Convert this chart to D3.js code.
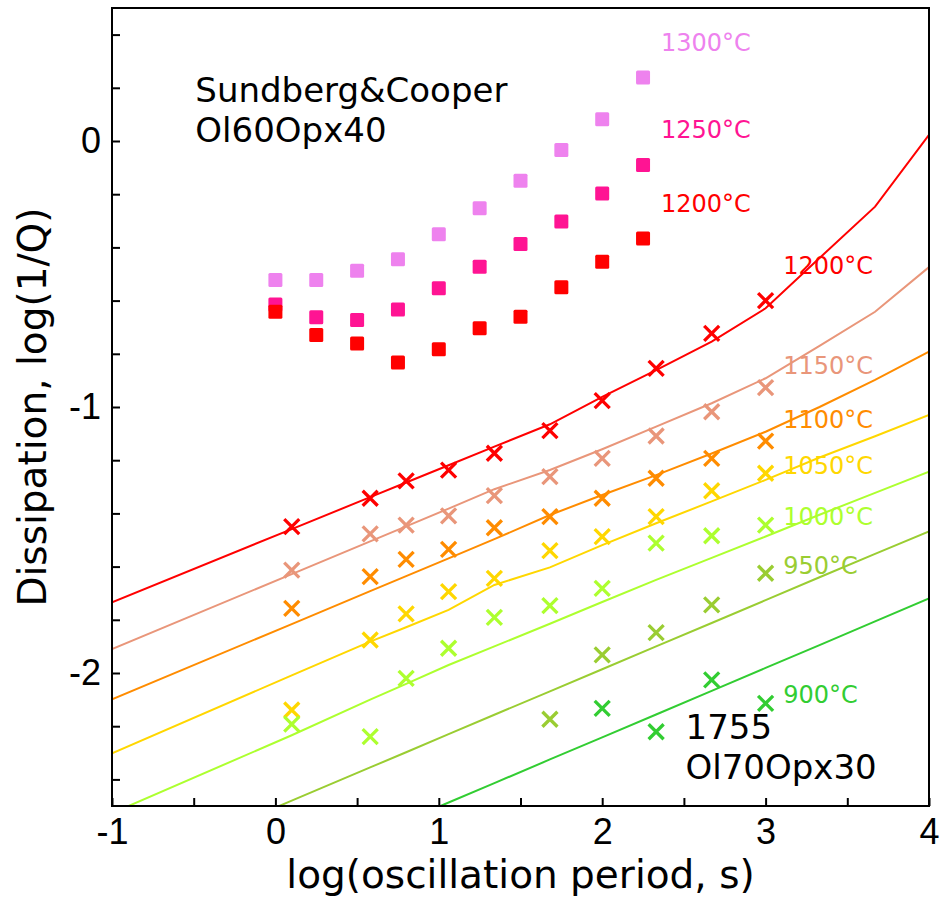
<!DOCTYPE html>
<html>
<head>
<meta charset="utf-8">
<script src="https://cdn.jsdelivr.net/npm/d3@7"></script>
<style>
  body { margin: 0; background: #fff; }
  svg { display: block; font-family: 'DejaVu Sans', sans-serif; }
</style>
</head>
<body>
<svg id="chart" width="945" height="897"></svg>
<script>
// Sundberg & Cooper, Ol60Opx40 (squares)
const squareX = [0, 0.25, 0.5, 0.75, 1.0, 1.25, 1.5, 1.75, 2.0, 2.25];
const sq1300 = [-0.523, -0.523, -0.488, -0.445, -0.351, -0.253, -0.149, -0.034, 0.082, 0.239];
const sq1250 = [-0.615, -0.663, -0.673, -0.633, -0.554, -0.473, -0.387, -0.303, -0.197, -0.090];
const sq1200 = [-0.642, -0.729, -0.761, -0.833, -0.783, -0.704, -0.661, -0.550, -0.454, -0.367];

// sample 1755, Ol70Opx30 (crosses)
const crossX = [0.1, 0.58, 0.8, 1.06, 1.34, 1.68, 2.0, 2.33, 2.67, 3.0];
const cross1200 = [-1.450, -1.343, -1.278, -1.237, -1.174, -1.089, -0.976, -0.855, -0.723, -0.600];
const cross1150 = [-1.613, -1.477, -1.444, -1.409, -1.333, -1.262, -1.193, -1.109, -1.018, -0.927];
const cross1100 = [-1.757, -1.638, -1.573, -1.535, -1.454, -1.412, -1.343, -1.268, -1.193, -1.128];
const cross1050 = [-2.139, -1.876, -1.778, -1.694, -1.644, -1.540, -1.487, -1.412, -1.315, -1.249];
const cross1000 = [-2.192, -2.239, -2.020, -1.907, -1.791, -1.747, -1.682, -1.512, -1.484, -1.444];
const cross950X = [1.68, 2.0, 2.33, 2.67, 3.0];
const cross950 = [-2.174, -1.932, -1.848, -1.744, -1.625];
const cross900X = [2.0, 2.33, 2.67, 3.0];
const cross900 = [-2.133, -2.221, -2.026, -2.114];

// model curves
const modelX = [-1, 0.1, 0.58, 0.8, 1.06, 1.34, 1.68, 2.0, 2.33, 2.67, 3.0, 3.33, 3.67, 4.0];
const model1200 = [-1.734, -1.459, -1.339, -1.284, -1.219, -1.149, -1.065, -0.962, -0.861, -0.754, -0.629, -0.44, -0.247, 0.023];
const model1150 = [-1.910, -1.628, -1.505, -1.449, -1.382, -1.309, -1.237, -1.159, -1.074, -0.986, -0.892, -0.77, -0.642, -0.474];
const model1100 = [-2.099, -1.816, -1.692, -1.636, -1.569, -1.497, -1.406, -1.331, -1.256, -1.175, -1.093, -1.0, -0.898, -0.792];
const model1050 = [-2.302, -2.009, -1.882, -1.828, -1.763, -1.669, -1.603, -1.519, -1.437, -1.355, -1.274, -1.19, -1.11, -1.030];
const model1000 = [-2.527, -2.234, -2.10, -2.041, -1.97, -1.90, -1.815, -1.733, -1.650, -1.567, -1.487, -1.405, -1.323, -1.243];
const model950 = [-2.766, -2.480, -2.355, -2.298, -2.230, -2.157, -2.069, -1.986, -1.900, -1.812, -1.726, -1.640, -1.552, -1.468];
const model900 = [-3.025, -2.738, -2.612, -2.555, -2.487, -2.414, -2.325, -2.242, -2.156, -2.067, -1.981, -1.895, -1.806, -1.720];

const xTickLabels = [-1, 0, 1, 2, 3, 4];
const yTickLabels = [0, -1, -2];

const colors = {
  1300: '#ee82ee',
  1250: '#ff1493',
  1200: '#ff0000',
  1150: '#e9967a',
  1100: '#ff8c00',
  1050: '#ffd700',
  1000: '#adff2f',
  950: '#9acd32',
  900: '#32cd32',
};

const margin = { top: 8, right: 16, bottom: 91, left: 112 };
const width = 945;
const height = 897;

const svg = d3.select('#chart');

const x = d3.scaleLinear()
  .domain([-1, 4])
  .range([margin.left, width - margin.right]);
const y = d3.scaleLinear()
  .domain([-2.5, 0.5])
  .range([height - margin.bottom, margin.top]);

svg.append('defs').append('clipPath')
  .attr('id', 'plot-clip')
  .append('rect')
  .attr('x', margin.left)
  .attr('y', margin.top)
  .attr('width', width - margin.left - margin.right)
  .attr('height', height - margin.top - margin.bottom);

const plot = svg.append('g').attr('clip-path', 'url(#plot-clip)');

// model lines
const lineGen = d3.line()
  .x((d) => x(d[0]))
  .y((d) => y(d[1]));

const models = [
  [1200, model1200], [1150, model1150], [1100, model1100], [1050, model1050],
  [1000, model1000], [950, model950], [900, model900],
];
models.forEach(([t, vals]) => {
  plot.append('path')
    .datum(modelX.map((v, i) => [v, vals[i]]))
    .attr('fill', 'none')
    .attr('stroke', colors[t])
    .attr('stroke-width', 2)
    .attr('d', lineGen);
});

// crosses
const crossSets = [
  [1200, crossX, cross1200], [1150, crossX, cross1150], [1100, crossX, cross1100],
  [1050, crossX, cross1050], [1000, crossX, cross1000], [950, cross950X, cross950],
  [900, cross900X, cross900],
];
const cs = 7.5;
crossSets.forEach(([t, xs, ys]) => {
  plot.append('g')
    .selectAll('path')
    .data(xs.map((v, i) => [v, ys[i]]))
    .join('path')
    .attr('d', (d) => {
      const cx = x(d[0]);
      const cy = y(d[1]);
      return `M${cx - cs},${cy - cs}L${cx + cs},${cy + cs}M${cx - cs},${cy + cs}L${cx + cs},${cy - cs}`;
    })
    .attr('stroke', colors[t])
    .attr('stroke-width', 3.3)
    .attr('fill', 'none');
});

// squares
const squareSets = [[1300, sq1300], [1250, sq1250], [1200, sq1200]];
const ss = 14;
squareSets.forEach(([t, ys]) => {
  plot.append('g')
    .selectAll('rect')
    .data(squareX.map((v, i) => [v, ys[i]]))
    .join('rect')
    .attr('x', (d) => x(d[0]) - ss / 2)
    .attr('y', (d) => y(d[1]) - ss / 2)
    .attr('width', ss)
    .attr('height', ss)
    .attr('rx', 1.5)
    .attr('fill', colors[t]);
});

// temperature labels
const labelTemps = [1300, 1250, 1200, 1200, 1150, 1100, 1050, 1000, 950, 900];
const labelX = [2.36, 2.36, 2.36, 3.108, 3.108, 3.108, 3.108, 3.108, 3.108, 3.108];
const labelY = [0.338, 0.010, -0.267, -0.501, -0.876, -1.078, -1.253, -1.444, -1.628, -2.114];
svg.append('g')
  .selectAll('text')
  .data(labelTemps)
  .join('text')
  .attr('x', (d, i) => x(labelX[i]))
  .attr('y', (d, i) => y(labelY[i]))
  .attr('fill', (d) => colors[d])
  .attr('font-size', 24)
  .text((d) => `${d}°C`);

// annotations
const note = (lines, x0, y0) => {
  const t = svg.append('text')
    .attr('x', x(x0))
    .attr('y', y(y0))
    .attr('font-size', 34)
    .attr('fill', '#000');
  lines.forEach((s, i) => {
    t.append('tspan')
      .attr('x', x(x0))
      .attr('dy', i === 0 ? 0 : 40)
      .text(s);
  });
};
note(['Sundberg&Cooper', 'Ol60Opx40'], -0.49, 0.148);
note(['1755', 'Ol70Opx30'], 2.51, -2.249);

// axes frame
const xAxis = (g) => {
  g.attr('transform', `translate(0,${height - margin.bottom})`)
    .call(d3.axisBottom(x).tickValues(d3.range(-1, 4.01, 0.5)).tickSize(-8).tickPadding(12)
      .tickFormat((d) => (xTickLabels.includes(d) ? d3.format('d')(d) : '')))
    .call((g) => g.select('.domain').remove());
  g.selectAll('.tick line').attr('stroke-width', 2);
  g.selectAll('.tick text').attr('font-size', 36).attr('fill', '#000').attr('dy', '0.71em');
};

const yAxis = (g) => {
  g.attr('transform', `translate(${margin.left},0)`)
    .call(d3.axisLeft(y).tickValues(d3.range(-2.4, 0.41, 0.2).map((v) => Math.round(v * 10) / 10))
      .tickSize(-8).tickPadding(11)
      .tickFormat((d) => (yTickLabels.includes(d) ? d3.format('d')(d) : '')))
    .call((g) => g.select('.domain').remove());
  g.selectAll('.tick line').attr('stroke-width', 2);
  g.selectAll('.tick text').attr('font-size', 36).attr('fill', '#000');
};

svg.append('g').call(xAxis);
svg.append('g').call(yAxis);

// d3 writes a unicode minus; the original uses a plain hyphen
svg.selectAll('.tick text').each(function () {
  const el = d3.select(this);
  el.text(el.text().replace('\u2212', '-'));
});

svg.append('rect')
  .attr('x', margin.left)
  .attr('y', margin.top)
  .attr('width', width - margin.left - margin.right)
  .attr('height', height - margin.top - margin.bottom)
  .attr('fill', 'none')
  .attr('stroke', '#000')
  .attr('stroke-width', 2);

// axis titles
svg.append('text')
  .attr('x', (margin.left + width - margin.right) / 2)
  .attr('y', 888)
  .attr('text-anchor', 'middle')
  .attr('font-size', 39)
  .text('log(oscillation period, s)');

svg.append('text')
  .attr('transform', `translate(46,${(margin.top + height - margin.bottom) / 2}) rotate(-90)`)
  .attr('text-anchor', 'middle')
  .attr('font-size', 39)
  .text('Dissipation, log(1/Q)');
</script>
</body>
</html>
